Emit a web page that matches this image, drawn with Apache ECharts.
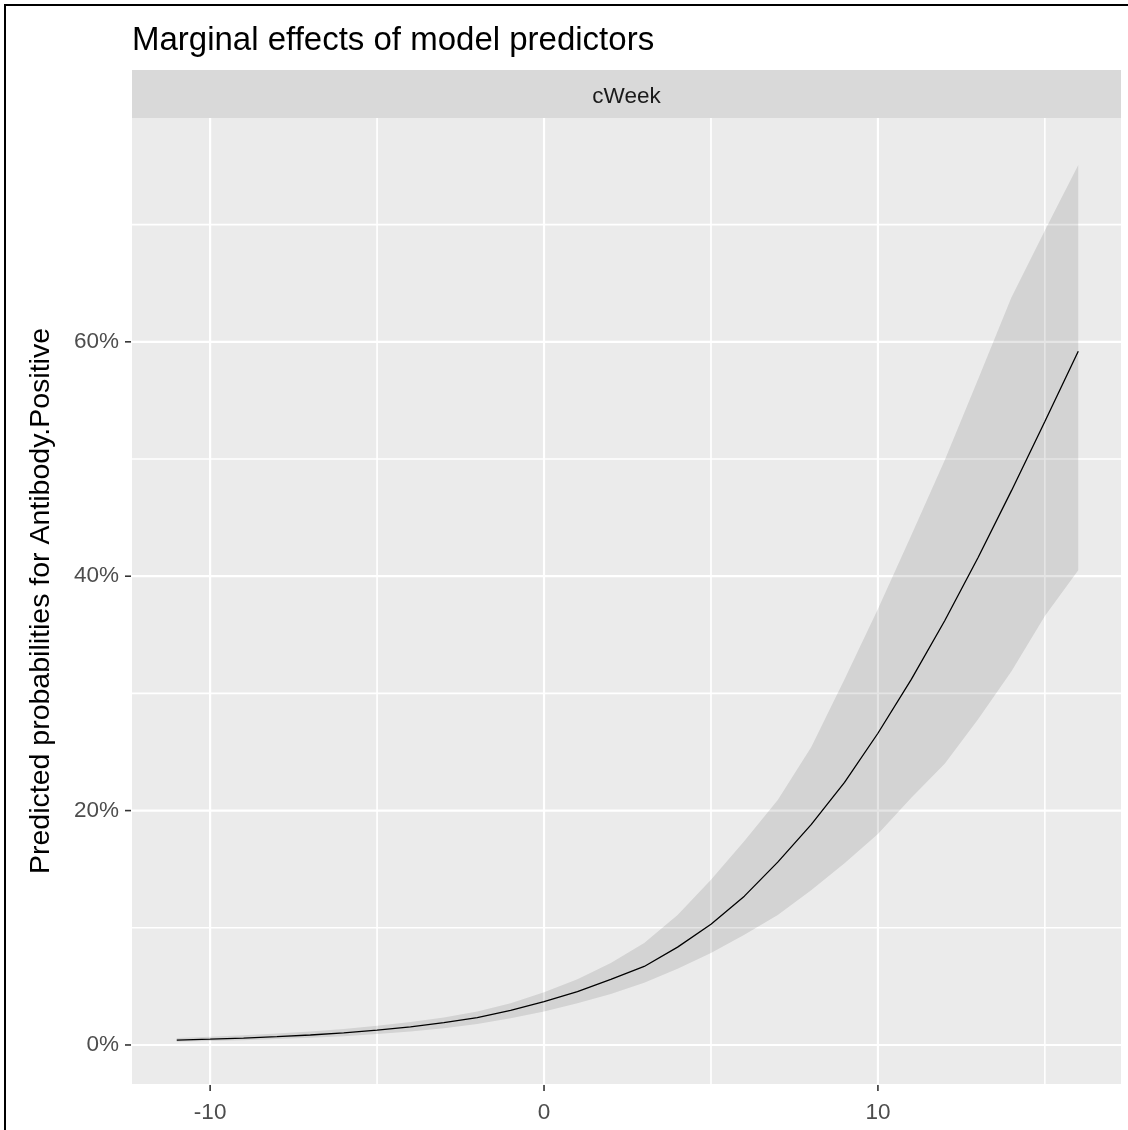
<!DOCTYPE html>
<html>
<head>
<meta charset="utf-8">
<title>Marginal effects of model predictors</title>
<script src="https://cdn.jsdelivr.net/npm/echarts@6/dist/echarts.min.js"></script>
<style>
  html, body { margin: 0; padding: 0; background: #ffffff; }
  #chart { width: 1128px; height: 1130px; }
</style>
</head>
<body>
<div id="chart"></div>
<script>
// Predicted probability (%) of a positive antibody test by centred week
const weeks = [-11, -10, -9, -8, -7, -6, -5, -4, -3, -2, -1, 0, 1, 2, 3, 4, 5, 6, 7, 8, 9, 10, 11, 12, 13, 14, 15, 16];
const predicted = [0.42, 0.50, 0.59, 0.71, 0.85, 1.03, 1.26, 1.55, 1.90, 2.33, 2.95, 3.70, 4.55, 5.60, 6.70, 8.35, 10.3, 12.7, 15.6, 18.8, 22.4, 26.6, 31.2, 36.2, 41.6, 47.3, 53.2, 59.2];
const ciUpper = [0.60, 0.70, 0.82, 0.97, 1.15, 1.37, 1.63, 1.95, 2.35, 2.85, 3.55, 4.50, 5.60, 7.00, 8.70, 11.1, 14.1, 17.4, 20.9, 25.4, 31.2, 37.2, 43.5, 49.9, 56.8, 63.8, 69.5, 75.1];
const ciLower = [0.28, 0.34, 0.41, 0.50, 0.61, 0.75, 0.93, 1.15, 1.43, 1.80, 2.27, 2.85, 3.55, 4.35, 5.30, 6.50, 7.85, 9.40, 11.1, 13.2, 15.5, 18.0, 21.1, 24.0, 27.8, 31.9, 36.6, 40.5];

// Axis breaks
const xMajor = [-10, 0, 10];
const xMinor = [-5, 5, 15];
const yMajor = [0, 20, 40, 60];
const yMinor = [10, 30, 50, 70];

const titleText = 'Marginal effects of model predictors';
const stripText = 'cWeek';
const yTitle = 'Predicted probabilities for Antibody.Positive';

// Panel extents (data units)
const X_MIN = -12.34, X_MAX = 17.28;
const Y_MIN = -3.33, Y_MAX = 79.1;

const FONT = "'Liberation Sans', Arial, sans-serif";
const GRID = { left: 132, right: 7, top: 118, bottom: 46 };
const TICK_LEN = 6;

const chart = echarts.init(document.getElementById('chart'), null, { renderer: 'canvas' });

// white panel grid lines
function vGrid(width) {
  return function (params, api) {
    const v = api.value(0);
    const a = api.coord([v, Y_MIN]);
    const b = api.coord([v, Y_MAX]);
    return { type: 'line', shape: { x1: a[0], y1: a[1], x2: b[0], y2: b[1] },
             style: { stroke: '#ffffff', lineWidth: width } };
  };
}
function hGrid(width) {
  return function (params, api) {
    const v = api.value(1);
    const a = api.coord([X_MIN, v]);
    const b = api.coord([X_MAX, v]);
    return { type: 'line', shape: { x1: a[0], y1: a[1], x2: b[0], y2: b[1] },
             style: { stroke: '#ffffff', lineWidth: width } };
  };
}
// small tick marks just outside the panel
function xTick(params, api) {
  const p = api.coord([api.value(0), Y_MIN]);
  return { type: 'line', shape: { x1: p[0], y1: p[1] + 1, x2: p[0], y2: p[1] + 1 + TICK_LEN },
           style: { stroke: '#333333', lineWidth: 1.6 } };
}
function yTick(params, api) {
  const p = api.coord([X_MIN, api.value(1)]);
  return { type: 'line', shape: { x1: p[0] - 1, y1: p[1], x2: p[0] - 1 - TICK_LEN, y2: p[1] },
           style: { stroke: '#333333', lineWidth: 1.6 } };
}

const option = {
  animation: false,
  backgroundColor: '#ffffff',
  grid: Object.assign({ show: true, backgroundColor: '#EBEBEB', borderWidth: 0, containLabel: false, outerBoundsMode: 'none' }, GRID),
  xAxis: {
    type: 'value', min: X_MIN, max: X_MAX,
    axisLine: { show: false },
    splitLine: { show: false },
    axisTick: { show: false },
    axisLabel: { customValues: xMajor, margin: 17, color: '#4D4D4D', fontSize: 22.5, fontFamily: FONT }
  },
  yAxis: {
    type: 'value', min: Y_MIN, max: Y_MAX,
    axisLine: { show: false },
    splitLine: { show: false },
    axisTick: { show: false },
    axisLabel: { customValues: yMajor, margin: 13, color: '#4D4D4D', fontSize: 22.5, fontFamily: FONT,
                 formatter: function (v) { return v + '%'; } }
  },
  series: [
    { type: 'custom', z: 1, silent: true, clip: false, renderItem: vGrid(1.6), data: xMinor.map(v => [v, 0]) },
    { type: 'custom', z: 1, silent: true, clip: false, renderItem: hGrid(1.6), data: yMinor.map(v => [0, v]) },
    { type: 'custom', z: 1, silent: true, clip: false, renderItem: vGrid(2.2), data: xMajor.map(v => [v, 0]) },
    { type: 'custom', z: 1, silent: true, clip: false, renderItem: hGrid(2.2), data: yMajor.map(v => [0, v]) },
    { type: 'custom', z: 1, silent: true, clip: false, renderItem: xTick, data: xMajor.map(v => [v, 0]) },
    { type: 'custom', z: 1, silent: true, clip: false, renderItem: yTick, data: yMajor.map(v => [0, v]) },
    {
      // confidence band
      type: 'custom', z: 2, silent: true,
      data: [[weeks[0], predicted[0]]],
      renderItem: function (params, api) {
        const pts = [];
        for (let i = 0; i < weeks.length; i++) pts.push(api.coord([weeks[i], ciUpper[i]]));
        for (let i = weeks.length - 1; i >= 0; i--) pts.push(api.coord([weeks[i], ciLower[i]]));
        return { type: 'polygon', shape: { points: pts }, style: { fill: 'rgba(0,0,0,0.1)' } };
      }
    },
    {
      type: 'line', z: 3, silent: true,
      data: weeks.map((w, i) => [w, predicted[i]]),
      showSymbol: false, symbol: 'none',
      lineStyle: { color: '#000000', width: 1.3 }
    }
  ],
  graphic: [
    // facet strip
    { type: 'rect', z: 10, shape: { x: 132, y: 70, width: 989, height: 48 }, style: { fill: '#D9D9D9' } },
    { type: 'text', z: 11, x: 626.5, y: 97, style: { text: stripText, align: 'center', verticalAlign: 'middle',
      fill: '#1A1A1A', font: '22.5px ' + FONT } },
    // plot title
    { type: 'text', z: 11, x: 132, y: 41, style: { text: titleText, align: 'left', verticalAlign: 'middle',
      fill: '#000000', font: '33px ' + FONT } },
    // y axis title
    { type: 'text', z: 11, x: 41, y: 601, rotation: Math.PI / 2,
      style: { text: yTitle, align: 'center', verticalAlign: 'middle', fill: '#000000', font: '28.5px ' + FONT } },
    // frame edges
    { type: 'line', z: 12, shape: { x1: 5, y1: 4, x2: 5, y2: 1130 }, style: { stroke: '#000000', lineWidth: 2 } },
    { type: 'line', z: 12, shape: { x1: 4, y1: 5, x2: 1128, y2: 5 }, style: { stroke: '#000000', lineWidth: 2 } }
  ]
};

chart.setOption(option);
</script>
</body>
</html>
